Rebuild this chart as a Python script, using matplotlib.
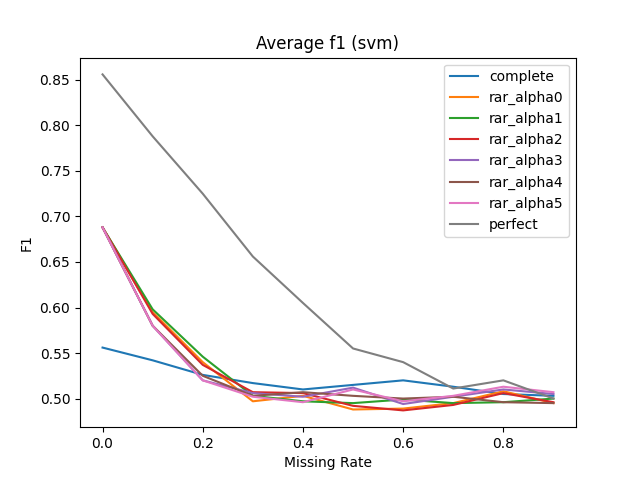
import matplotlib
matplotlib.use('Agg')
import matplotlib.pyplot as plt

missing_rate = [0.0, 0.1, 0.2, 0.3, 0.4, 0.5, 0.6, 0.7, 0.8, 0.9]
complete = [0.556, 0.542, 0.526, 0.517, 0.510, 0.515, 0.520, 0.513, 0.505, 0.503]
rar_alpha0 = [0.688, 0.595, 0.540, 0.497, 0.503, 0.488, 0.489, 0.495, 0.508, 0.495]
rar_alpha1 = [0.688, 0.598, 0.546, 0.503, 0.497, 0.495, 0.499, 0.495, 0.496, 0.500]
rar_alpha2 = [0.688, 0.593, 0.537, 0.507, 0.506, 0.492, 0.487, 0.493, 0.506, 0.496]
rar_alpha3 = [0.688, 0.580, 0.520, 0.506, 0.502, 0.512, 0.494, 0.502, 0.510, 0.505]
rar_alpha4 = [0.688, 0.580, 0.525, 0.503, 0.507, 0.503, 0.500, 0.502, 0.496, 0.495]
rar_alpha5 = [0.688, 0.580, 0.520, 0.502, 0.496, 0.510, 0.497, 0.503, 0.513, 0.507]
perfect = [0.856, 0.788, 0.725, 0.656, 0.605, 0.555, 0.540, 0.511, 0.520, 0.500]

series = {
    'complete': complete,
    'rar_alpha0': rar_alpha0,
    'rar_alpha1': rar_alpha1,
    'rar_alpha2': rar_alpha2,
    'rar_alpha3': rar_alpha3,
    'rar_alpha4': rar_alpha4,
    'rar_alpha5': rar_alpha5,
    'perfect': perfect,
}

fig, ax = plt.subplots(figsize=(6.4, 4.8), dpi=100)
for name, vals in series.items():
    ax.plot(missing_rate, vals, label=name)

ax.set_title('Average f1 (svm)')
ax.set_xlabel('Missing Rate')
ax.set_ylabel('F1')
ax.legend(loc='upper right')

plt.savefig('out.png', dpi=100)
